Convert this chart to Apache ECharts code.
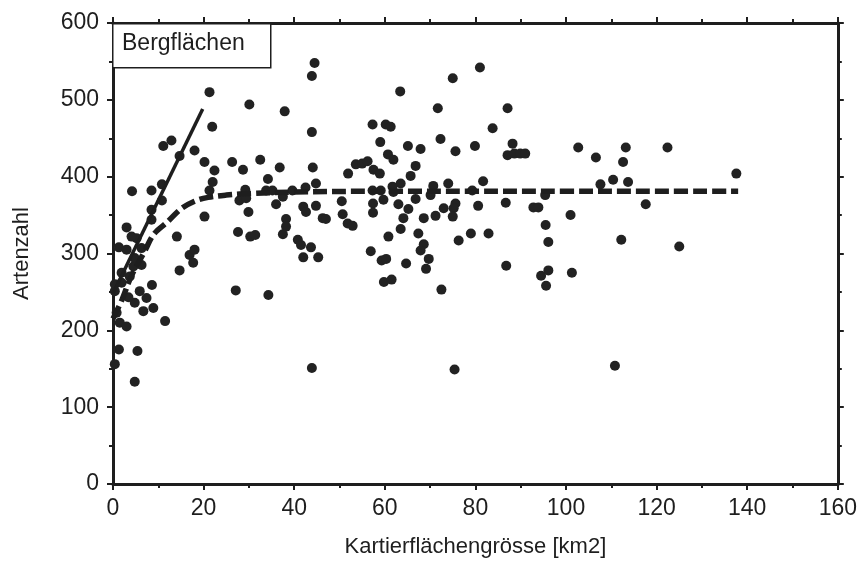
<!DOCTYPE html>
<html>
<head>
<meta charset="utf-8">
<script src="https://cdn.jsdelivr.net/npm/echarts@6/dist/echarts.min.js"></script>
<style>
html,body{margin:0;padding:0;background:#fff;}
#chart{width:860px;height:563px;}
</style>
</head>
<body>
<div id="chart"></div>
<script>
// Scatter points [Kartierflächengrösse km2, Artenzahl]
const bergPoints = [
  [0.4,156],[1.3,175],[5.4,173],[4.8,133],[1.5,210],[3.0,205],[0.8,223],[11.5,212],
  [6.7,225],[8.9,229],[4.8,236],[3.4,243],[7.4,242],[0.4,251],[5.9,251],[8.6,259],
  [0.4,260],[1.9,262],[3.7,270],[1.9,275],[4.5,283],[6.3,285],[4.8,294],[1.3,308],
  [3.0,305],[6.3,307],[5.2,320],[4.1,322],[3.0,334],[8.5,344],[8.5,357],[10.8,369],
  [4.2,381],[8.5,382],[10.8,390],[11.1,440],[12.9,447],[14.7,427],[18.0,434],[20.2,419],
  [22.4,408],[22.0,393],[21.3,382],[20.2,348],[21.3,510],[21.9,465],[14.1,322],[16.9,298],
  [17.7,288],[18.0,305],[14.7,278],[27.1,252],
  [26.3,419],[28.7,409],[32.5,422],[36.8,412],[44.1,412],[30.1,494],[37.9,485],[44.5,548],
  [43.9,531],[43.9,458],[34.2,397],[29.2,383],[44.8,391],[42.5,386],[27.9,369],[29.4,372],
  [36.0,364],[37.5,374],[29.9,354],[42.0,361],[42.6,354],[44.8,362],[38.2,345],[38.2,335],
  [37.5,325],[46.3,346],[47.0,345],[50.5,368],[50.7,351],[51.8,339],[52.9,336],[27.6,328],
  [30.3,322],[31.4,324],[40.8,318],[41.5,311],[43.7,308],[42.0,295],[45.3,295],[34.3,246],
  [43.9,151],[33.8,382],[35.2,382],[39.6,382],[53.6,416],[55.0,417],[56.2,420],[51.9,404],
  [57.3,468],[60.2,468],[61.3,465],[63.4,511],[71.7,489],[75.0,528],[81.0,542],[83.8,463],
  [87.1,489],[59.0,445],[72.3,449],[65.1,440],[67.9,436],[75.6,433],[79.9,440],[88.2,443],
  [87.1,428],[88.6,430],[89.9,430],[91.0,430],[60.7,429],[61.9,422],[57.5,409],[58.9,404],
  [66.8,414],[65.7,401],[63.5,391],[70.7,388],[74.0,391],[81.7,394],[57.3,382],[59.1,382],
  [61.7,387],[61.9,380],[79.3,382],[70.1,376],[59.7,370],[66.8,371],[57.4,365],[57.4,353],
  [63.0,364],[65.2,358],[75.6,365],[75.2,359],[75.0,348],[73.0,359],[80.6,362],[86.7,366],
  [92.8,360],[93.9,360],[95.4,376],[64.1,346],[68.6,346],[71.2,349],[63.5,332],[67.4,326],
  [60.8,322],[76.3,317],[79.0,326],[82.9,326],[95.5,337],[96.1,315],[56.9,303],[68.6,312],
  [67.9,304],[59.3,291],[60.3,293],[64.7,287],[69.7,293],[69.1,280],[86.8,284],[59.8,263],
  [61.5,266],[72.5,253],[75.4,149],[94.5,271],[96.1,278],[95.6,258],[101.3,275],[101.0,350],
  [102.7,438],[106.6,425],[107.6,390],[110.4,396],[113.7,393],[112.6,419],[113.2,438],
  [122.4,438],[117.6,364],[112.2,318],[125.0,309],[137.6,404],[110.8,154]
];
// Solid straight line
const linearFit = [[0,248],[19.8,488]];
// Dashed saturation curve
const saturationFit = [
  [0,215],[2,240],[4,270],[7,303],[9,325],[12,341],[15,358],[18,368],[21,373],
  [25,376],[30,378],[40,380],[60,381],[80,381],[100,381],[120,381],[138,381]
];
const xMin = 0, xMax = 160, xStep = 20;
const yMin = 0, yMax = 600, yStep = 100;
const title = 'Bergflächen';
const xName = 'Kartierflächengrösse [km2]';
const yName = 'Artenzahl';

const ink = '#1e1e1e';
const font = '"Liberation Sans", Arial, Helvetica, sans-serif';

const chart = echarts.init(document.getElementById('chart'), null, {renderer:'canvas'});
const axisCommon = {
  axisLine:{show:true, onZero:false, lineStyle:{color:ink, width:3}},
  axisTick:{show:true, inside:false, length:6, lineStyle:{color:ink, width:2}},
  minorTick:{show:true, splitNumber:2, length:4, lineStyle:{color:ink, width:2}},
  splitLine:{show:false}
};
chart.setOption({
  animation:false,
  backgroundColor:'#fff',
  grid:{left:113, right:21, top:23, bottom:75, containLabel:false},
  xAxis:[
    Object.assign({type:'value', min:xMin, max:xMax, interval:xStep, position:'bottom',
      name:xName, nameLocation:'middle', nameGap:52,
      nameTextStyle:{fontFamily:font, fontSize:22, color:ink},
      axisLabel:{fontFamily:font, fontSize:23, color:ink, margin:13}}, axisCommon),
    Object.assign({type:'value', min:xMin, max:xMax, interval:xStep, position:'top',
      axisLabel:{show:false}}, axisCommon)
  ],
  yAxis:[
    Object.assign({type:'value', min:yMin, max:yMax, interval:yStep, position:'left',
      name:yName, nameLocation:'middle', nameGap:80, nameRotate:90,
      nameTextStyle:{fontFamily:font, fontSize:22, color:ink},
      axisLabel:{fontFamily:font, fontSize:23, color:ink, margin:14}}, axisCommon),
    Object.assign({type:'value', min:yMin, max:yMax, interval:yStep, position:'right',
      axisLabel:{show:false}}, axisCommon)
  ],
  series:[
    {type:'scatter', data:bergPoints, symbol:'circle', symbolSize:10,
     itemStyle:{color:'#222222', opacity:1}, z:3},
    {type:'line', data:linearFit, symbol:'none', lineStyle:{color:ink, width:3.5}, z:4},
    {type:'line', data:saturationFit, symbol:'none', smooth:0.35,
     lineStyle:{color:ink, width:5.5, type:[14,5]}, z:4}
  ],
  graphic:[
    {type:'rect', left:112, top:23, shape:{width:158, height:44},
     style:{fill:'#fff', stroke:ink, lineWidth:1.5}, z:10},
    {type:'text', left:122, top:32, style:{text:title, fontFamily:font, fontSize:23, fill:ink}, z:11}
  ]
});
</script>
</body>
</html>
